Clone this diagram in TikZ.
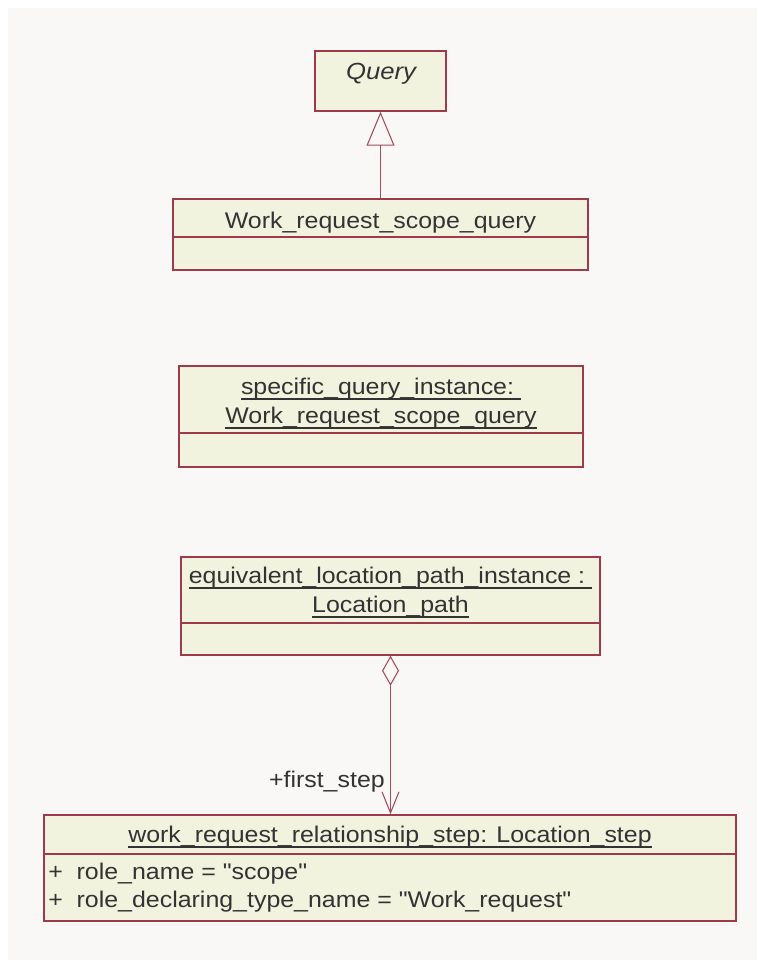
\documentclass[tikz,border=0pt]{standalone}
\usepackage{fontspec}
\setmainfont{Liberation Sans}[FakeStretch=1.1, Ligatures=TeXOff]
\usetikzlibrary{arrows.meta}
\definecolor{bgcol}{HTML}{F9F8F6}
\definecolor{boxfill}{HTML}{F2F3DF}
\definecolor{boxline}{HTML}{9E3A4B}
\definecolor{conline}{HTML}{A64A5C}
\definecolor{txt}{HTML}{333333}
\newcommand\ulin[1]{\setbox0=\hbox{#1}\leavevmode\rlap{\rule[-0.27em]{\wd0}{0.08em}}\box0}
\tikzset{
  compart/.style={draw=boxline, fill=boxfill, line width=1.1pt, rectangle, inner sep=0pt},
  label/.style={text=txt, inner sep=0pt, anchor=base, font=\fontsize{17}{20}\selectfont},
  attr/.style={label, anchor=base west},
  conn/.style={draw=conline, line width=0.8pt},
}
\begin{document}
\begin{tikzpicture}[x=0.75pt,y=-0.75pt]
\useasboundingbox (0,0) rectangle (757,960);
\fill[white] (0,0) rectangle (757,960);
\fill[bgcol] (8,8) rectangle (757,960);

% Query
\node[compart, minimum width=98.25pt, minimum height=45pt] (query) at (380.5,81) {};
\node[label, font=\fontsize{17.5}{20}\selectfont\itshape] (queryT) at (381,79) {Query};

% Work_request_scope_query
\node[compart, minimum width=311.25pt, minimum height=28.5pt] (wrqT) at (380.5,218) {};
\node[compart, minimum width=311.25pt, minimum height=24.75pt] (wrqA) at (380.5,253.5) {};
\node[label] (wrqL) at (380.5,228) {Work\_request\_scope\_query};

% specific_query_instance
\node[compart, minimum width=303pt, minimum height=50.25pt] (specT) at (381,399.5) {};
\node[compart, minimum width=303pt, minimum height=25.5pt] (specA) at (381,450) {};
\node[label] (specL1) at (381,394) {\ulin{specific\_query\_instance:\ }};
\node[label] (specL2) at (381,423) {\ulin{Work\_request\_scope\_query}};

% equivalent_location_path_instance
\node[compart, minimum width=314.25pt, minimum height=49.5pt] (equivT) at (390.5,590) {};
\node[compart, minimum width=314.25pt, minimum height=24pt] (equivA) at (390.5,639) {};
\node[label] (equivL1) at (390.5,583) {\ulin{equivalent\_location\_path\_instance :\ }};
\node[label] (equivL2) at (390.5,612) {\ulin{Location\_path}};

% work_request_relationship_step
\node[compart, minimum width=519pt, minimum height=29.25pt] (lstepT) at (390,834.5) {};
\node[compart, minimum width=519pt, minimum height=50.25pt] (lstepA) at (390,887.5) {};
\node[label] (lstepL) at (390,842) {\ulin{work\_request\_relationship\_step: Location\_step}};
\node[attr] (lstepA1) at (48,879) {+\ \ role\_name = "scope"};
\node[attr] (lstepA2) at (48,907) {+\ \ role\_declaring\_type\_name = "Work\_request"};

% generalization
\draw[conn, -{Triangle[open, length=25.5pt, width=21pt, line width=0.8pt]}] (wrqT.north) -- (query.south);

% aggregation
\draw[conn, {Diamond[open, length=22.5pt, width=12.75pt, line width=0.8pt]}-{Straight Barb[length=15.75pt, width=12.75pt, line width=0.8pt]}]
  (equivA.south) -- (equivA.south |- lstepT.north);
\node[label, anchor=base east] (firststep) at (385,787) {+first\_step};
\end{tikzpicture}
\end{document}
